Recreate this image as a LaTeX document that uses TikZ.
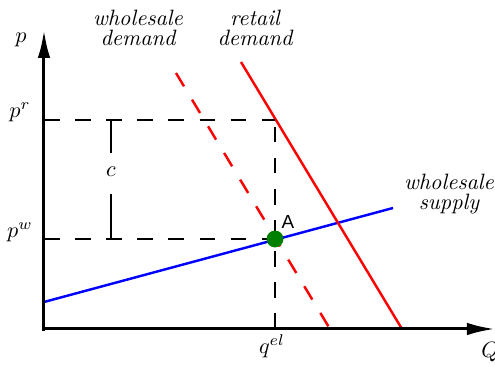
\documentclass[tikz,border=0pt]{standalone}
\usepackage{fontspec}
\newfontfamily\labelsans{Liberation Sans}
\usetikzlibrary{arrows.meta}
\begin{document}
\begin{tikzpicture}[x=0.45pt,y=-0.45pt,
  axisline/.style={line width=1.35pt,-{Latex[length=12.6pt,width=5.6pt]}},
  guide/.style={line width=1.2pt,dash pattern=on 7pt off 7pt},
  demandline/.style={red,line width=1.1pt},
  supplyline/.style={blue,line width=1.1pt},
  bracketline/.style={line width=0.5pt},
  curvelabel/.style={font=\itshape,align=center,anchor=north,inner sep=0pt},
  marklabel/.style={inner sep=0pt}]
\useasboundingbox (0,0) rectangle (495,367);
% coordinates
\coordinate (O) at (44,329);
\coordinate (Ytip) at (44,30);
\coordinate (Xtip) at (495,329);
\coordinate (Pr) at (44,120);
\coordinate (Pw) at (44,239);
\coordinate (Corner) at (275,120);
\coordinate (A) at (275,239);
\coordinate (Qel) at (275,329);
\coordinate (S0) at (44,302);
\coordinate (S1) at (393,208);
\coordinate (WD0) at (176,73);
\coordinate (WD1) at (330,329);
\coordinate (RD0) at (241,62);
\coordinate (RD1) at (402,329);
\coordinate (Ctop) at (111,120);
\coordinate (Cmid1) at (111,153);
\coordinate (Cmid2) at (111,194);
\coordinate (Cbot) at (111,239);
% curves
\draw[supplyline] (S0) -- (S1);
\draw[demandline,dash pattern=on 7pt off 7pt] (WD0) -- (WD1);
\draw[demandline] (RD0) -- (RD1);
% guides
\draw[guide] (Pr) -- (Corner);
\draw[guide] (Pw) -- (A);
\draw[guide] (Qel) -- (Corner);
% c bracket
\draw[bracketline] (Ctop) -- (Cmid1);
\draw[bracketline] (Cmid2) -- (Cbot);
\node[marklabel] (c) at (111,172) {$c$};
% axes
\draw[axisline] (44,331) -- (Ytip);
\draw[axisline] (43,329) -- (Xtip);
% point
\fill[green!50!black] (A) circle (3.8pt);
\node[font=\labelsans\fontsize{8.5}{10}\selectfont,inner sep=0pt] (Alab) at (288,222.5) {A};
% labels
\node[marklabel] (plab) at (21,40) {$p$};
\node[marklabel] (prlab) at (20,112) {$p^r$};
\node[marklabel] (pwlab) at (20,232) {$p^w$};
\node[marklabel] (qlab) at (272,346) {$q^{el}$};
\node[marklabel,anchor=west] (Qlab) at (481,352) {$Q$};
\node[curvelabel] (wdlab) at (138,10) {wholesale\\[-3pt]demand};
\node[curvelabel] (rdlab) at (255,10) {retail\\[-3pt]demand};
\node[curvelabel] (wslab) at (449,174) {wholesale\\[-3pt]supply};
\end{tikzpicture}
\end{document}
